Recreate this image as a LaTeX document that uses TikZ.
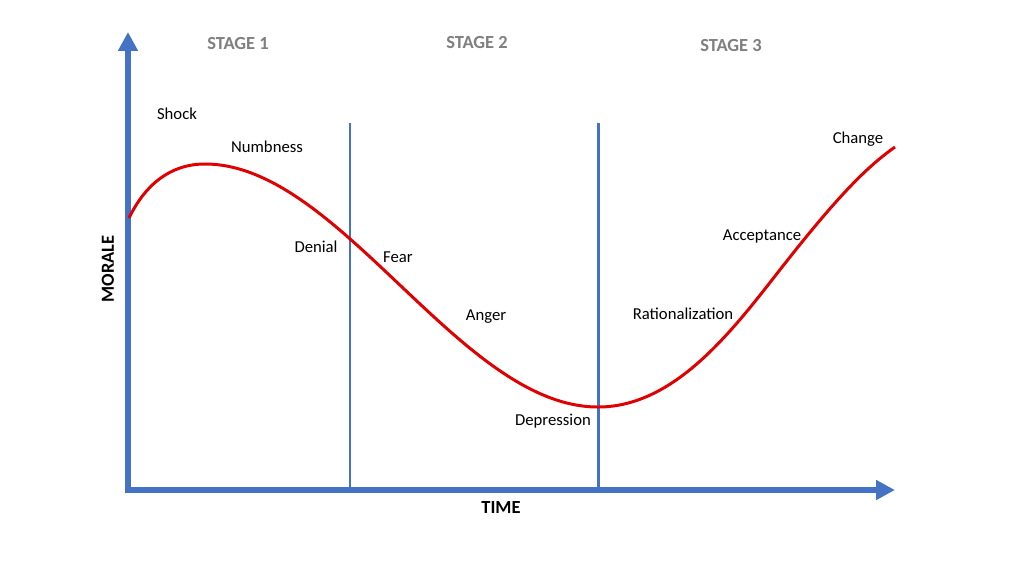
\documentclass[tikz,border=0pt]{standalone}
\usepackage{fontspec}
\setmainfont{Carlito}
\usetikzlibrary{arrows.meta}
\definecolor{axisblue}{HTML}{4472C4}
\definecolor{curvered}{HTML}{E00000}
\definecolor{stagegray}{HTML}{7F7F7F}
\tikzset{
  axisline/.style={draw=axisblue, line width=3.4pt},
  stageline/.style={draw=axisblue, line width=1.7pt},
  curveline/.style={draw=curvered, line width=1.7pt},
  stagelabel/.style={text=stagegray, font=\fontsize{10.5}{12}\selectfont\bfseries, inner sep=0pt},
  phaselabel/.style={text=black, font=\fontsize{9.5}{11}\selectfont, inner sep=0pt},
  axislabel/.style={text=black, font=\fontsize{10.5}{12}\selectfont\bfseries, inner sep=0pt}
}
\begin{document}
\begin{tikzpicture}[x=0.02cm, y=-0.02cm]
\useasboundingbox (0,0) rectangle (1024,576);
% axes
\coordinate (ytop) at (128,32);
\coordinate (origin) at (128,490);
\coordinate (xend) at (895,490);
\draw[axisline, line join=miter, {Triangle[length=10.8pt,width=10.8pt]}-{Triangle[length=10.8pt,width=10.8pt]}]
  (ytop) -- (origin) -- (xend);
% stage separators
\coordinate (s1top) at (350,123);
\coordinate (s1bot) at (350,487);
\coordinate (s2top) at (598,123);
\coordinate (s2bot) at (598,487);
\draw[stageline] (s1top) -- (s1bot);
\draw[stageline] (s2top) -- (s2bot);
% curve
\coordinate (cstart) at (129,218);
\coordinate (cpeak) at (205,164);
\coordinate (cmin) at (598,407);
\coordinate (cmid) at (790,257);
\coordinate (cend) at (895,147);
\draw[curveline]
  (cstart) .. controls (145,185) and (170,164) .. (cpeak)
  .. controls (340,164) and (460,407) .. (cmin)
  .. controls (680,407) and (740,320) .. (cmid)
  .. controls (840,194) and (868,166) .. (cend);
% stage labels
\node[stagelabel] (st1) at (238,44) {STAGE 1};
\node[stagelabel] (st2) at (477,43) {STAGE 2};
\node[stagelabel] (st3) at (731,46) {STAGE 3};
% phase labels
\node[phaselabel] (shock) at (177,114) {Shock};
\node[phaselabel] (numb) at (267,147) {Numbness};
\node[phaselabel] (denial) at (316,247) {Denial};
\node[phaselabel] (fear) at (398,257) {Fear};
\node[phaselabel] (anger) at (486,317) {Anger};
\node[phaselabel] (depr) at (553,421) {Depression};
\node[phaselabel] (rat) at (683,314) {Rationalization};
\node[phaselabel] (acc) at (762,236) {Acceptance};
\node[phaselabel] (chg) at (858,139) {Change};
% axis labels
\node[axislabel, rotate=90] (morale) at (108,269) {MORALE};
\node[axislabel] (time) at (501,508) {TIME};
\end{tikzpicture}
\end{document}
